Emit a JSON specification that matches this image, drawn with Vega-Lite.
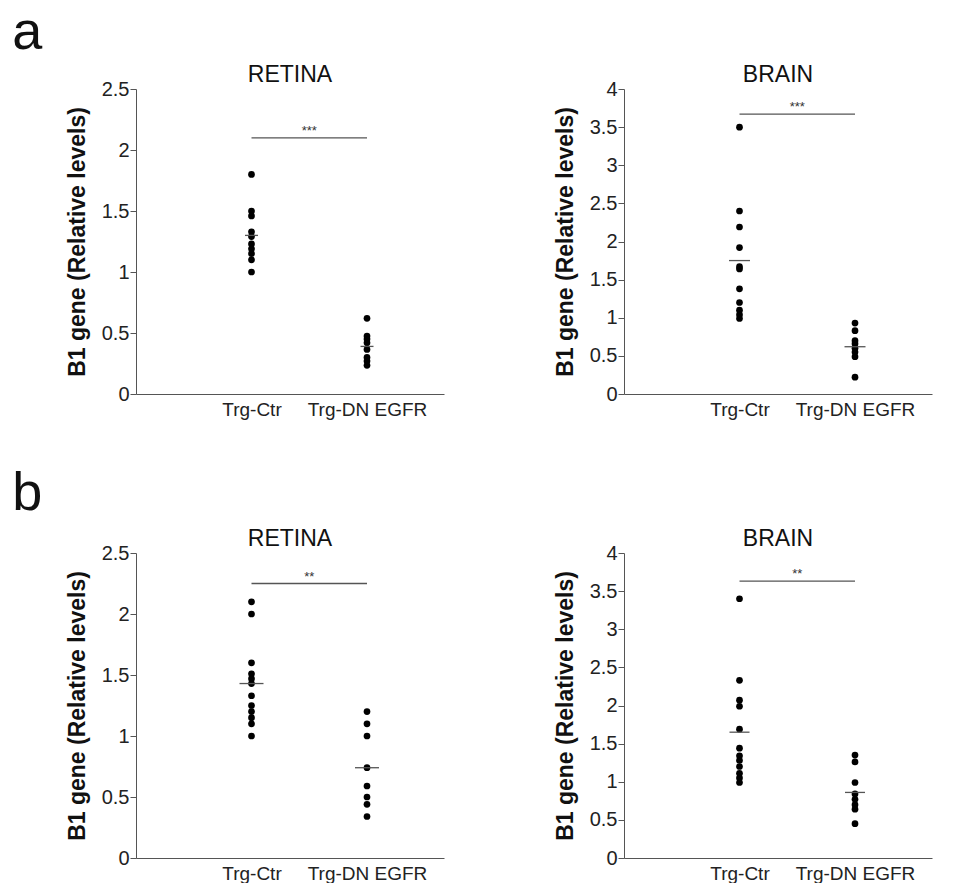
{
  "$schema": "https://vega.github.io/schema/vega-lite/v6.json",
  "background": "white",
  "padding": {"left": 12, "top": 6, "right": 15, "bottom": 0},
  "config": {
    "font": "Liberation Sans",
    "view": {"stroke": null},
    "title": {"fontSize": 23, "fontWeight": "normal", "color": "#111", "offset": -8},
    "axis": {"grid": false, "domainColor": "#555", "tickColor": "#555", "labelColor": "#222", "titleColor": "#111", "labelOverlap": false}
  },
  "spacing": 48,
  "vconcat": [
    {
      "title": {"text": "a", "anchor": "start", "fontSize": 54, "fontWeight": "normal", "dx": -54, "offset": 4, "color": "#111"},
      "spacing": 110,
      "hconcat": [
        {
          "width": 308, "height": 305, "title": "RETINA",
          "encoding": {
            "x": {"field": "group", "type": "nominal", "scale": {"type": "point", "domain": ["Trg-Ctr", "Trg-DN EGFR"], "padding": 0.8333, "align": 0.6}, "axis": {"title": null, "ticks": false, "labelAngle": 0, "labelFontSize": 19, "labelPadding": 6}},
            "y": {"field": "value", "type": "quantitative", "scale": {"domain": [0, 2.5], "nice": false}, "axis": {"values": [0, 0.5, 1, 1.5, 2, 2.5], "format": ".1~f", "labelOverlap": false, "tickSize": 6, "labelFontSize": 20, "labelPadding": 1, "title": "B1 gene (Relative levels)", "titleFontSize": 23, "titleFontWeight": "bold", "titlePadding": 12}}
          },
          "layer": [
            {"data": {"values": [
              {"group": "Trg-Ctr", "value": 1.80}, {"group": "Trg-Ctr", "value": 1.50}, {"group": "Trg-Ctr", "value": 1.46}, {"group": "Trg-Ctr", "value": 1.33}, {"group": "Trg-Ctr", "value": 1.29}, {"group": "Trg-Ctr", "value": 1.23}, {"group": "Trg-Ctr", "value": 1.19}, {"group": "Trg-Ctr", "value": 1.15}, {"group": "Trg-Ctr", "value": 1.10}, {"group": "Trg-Ctr", "value": 1.00},
              {"group": "Trg-DN EGFR", "value": 0.62}, {"group": "Trg-DN EGFR", "value": 0.475}, {"group": "Trg-DN EGFR", "value": 0.45}, {"group": "Trg-DN EGFR", "value": 0.42}, {"group": "Trg-DN EGFR", "value": 0.365}, {"group": "Trg-DN EGFR", "value": 0.30}, {"group": "Trg-DN EGFR", "value": 0.27}, {"group": "Trg-DN EGFR", "value": 0.235}
            ]},
             "mark": {"type": "point", "filled": true, "color": "#000", "opacity": 1, "size": 45}},
            {"data": {"values": [{"group": "Trg-Ctr", "value": 1.30}, {"group": "Trg-DN EGFR", "value": 0.39}]},
             "mark": {"type": "tick", "orient": "horizontal", "size": 13, "thickness": 1.3, "color": "#555", "opacity": 1}},
            {"data": {"values": [{"group": "Trg-Ctr", "group2": "Trg-DN EGFR", "value": 2.1, "label": "***"}]},
             "mark": {"type": "rule", "color": "#555", "strokeWidth": 1.3},
             "encoding": {"x2": {"field": "group2"}}},
            {"data": {"values": [{"group": "Trg-Ctr", "group2": "Trg-DN EGFR", "value": 2.1, "label": "***"}]},
             "mark": {"type": "text", "dx": 57.75, "dy": -7, "fontSize": 13, "color": "#333"},
             "encoding": {"text": {"field": "label"}}}
          ]
        },
        {
          "width": 308, "height": 305, "title": "BRAIN",
          "encoding": {
            "x": {"field": "group", "type": "nominal", "scale": {"type": "point", "domain": ["Trg-Ctr", "Trg-DN EGFR"], "padding": 0.8333, "align": 0.6}, "axis": {"title": null, "ticks": false, "labelAngle": 0, "labelFontSize": 19, "labelPadding": 6}},
            "y": {"field": "value", "type": "quantitative", "scale": {"domain": [0, 4], "nice": false}, "axis": {"values": [0, 0.5, 1, 1.5, 2, 2.5, 3, 3.5, 4], "format": ".1~f", "labelOverlap": false, "tickSize": 6, "labelFontSize": 20, "labelPadding": 1, "title": "B1 gene (Relative levels)", "titleFontSize": 23, "titleFontWeight": "bold", "titlePadding": 12}}
          },
          "layer": [
            {"data": {"values": [
              {"group": "Trg-Ctr", "value": 3.50}, {"group": "Trg-Ctr", "value": 2.40}, {"group": "Trg-Ctr", "value": 2.19}, {"group": "Trg-Ctr", "value": 1.92}, {"group": "Trg-Ctr", "value": 1.67}, {"group": "Trg-Ctr", "value": 1.64}, {"group": "Trg-Ctr", "value": 1.38}, {"group": "Trg-Ctr", "value": 1.20}, {"group": "Trg-Ctr", "value": 1.10}, {"group": "Trg-Ctr", "value": 1.04}, {"group": "Trg-Ctr", "value": 0.99},
              {"group": "Trg-DN EGFR", "value": 0.93}, {"group": "Trg-DN EGFR", "value": 0.83}, {"group": "Trg-DN EGFR", "value": 0.70}, {"group": "Trg-DN EGFR", "value": 0.66}, {"group": "Trg-DN EGFR", "value": 0.60}, {"group": "Trg-DN EGFR", "value": 0.55}, {"group": "Trg-DN EGFR", "value": 0.49}, {"group": "Trg-DN EGFR", "value": 0.22}
            ]},
             "mark": {"type": "point", "filled": true, "color": "#000", "opacity": 1, "size": 45}},
            {"data": {"values": [{"group": "Trg-Ctr", "value": 1.75}, {"group": "Trg-DN EGFR", "value": 0.62}]},
             "mark": {"type": "tick", "orient": "horizontal", "size": 21, "thickness": 1.3, "color": "#555", "opacity": 1}},
            {"data": {"values": [{"group": "Trg-Ctr", "group2": "Trg-DN EGFR", "value": 3.67, "label": "***"}]},
             "mark": {"type": "rule", "color": "#555", "strokeWidth": 1.3},
             "encoding": {"x2": {"field": "group2"}}},
            {"data": {"values": [{"group": "Trg-Ctr", "group2": "Trg-DN EGFR", "value": 3.67, "label": "***"}]},
             "mark": {"type": "text", "dx": 57.75, "dy": -7, "fontSize": 13, "color": "#333"},
             "encoding": {"text": {"field": "label"}}}
          ]
        }
      ]
    },
    {
      "title": {"text": "b", "anchor": "start", "fontSize": 54, "fontWeight": "normal", "dx": -54, "offset": 7, "color": "#111"},
      "spacing": 110,
      "hconcat": [
        {
          "width": 308, "height": 305, "title": "RETINA",
          "encoding": {
            "x": {"field": "group", "type": "nominal", "scale": {"type": "point", "domain": ["Trg-Ctr", "Trg-DN EGFR"], "padding": 0.8333, "align": 0.6}, "axis": {"title": null, "ticks": false, "labelAngle": 0, "labelFontSize": 19, "labelPadding": 6}},
            "y": {"field": "value", "type": "quantitative", "scale": {"domain": [0, 2.5], "nice": false}, "axis": {"values": [0, 0.5, 1, 1.5, 2, 2.5], "format": ".1~f", "labelOverlap": false, "tickSize": 6, "labelFontSize": 20, "labelPadding": 1, "title": "B1 gene (Relative levels)", "titleFontSize": 23, "titleFontWeight": "bold", "titlePadding": 12}}
          },
          "layer": [
            {"data": {"values": [
              {"group": "Trg-Ctr", "value": 2.10}, {"group": "Trg-Ctr", "value": 2.00}, {"group": "Trg-Ctr", "value": 1.60}, {"group": "Trg-Ctr", "value": 1.51}, {"group": "Trg-Ctr", "value": 1.47}, {"group": "Trg-Ctr", "value": 1.43}, {"group": "Trg-Ctr", "value": 1.33}, {"group": "Trg-Ctr", "value": 1.25}, {"group": "Trg-Ctr", "value": 1.20}, {"group": "Trg-Ctr", "value": 1.15}, {"group": "Trg-Ctr", "value": 1.10}, {"group": "Trg-Ctr", "value": 1.00},
              {"group": "Trg-DN EGFR", "value": 1.20}, {"group": "Trg-DN EGFR", "value": 1.10}, {"group": "Trg-DN EGFR", "value": 1.00}, {"group": "Trg-DN EGFR", "value": 0.74}, {"group": "Trg-DN EGFR", "value": 0.59}, {"group": "Trg-DN EGFR", "value": 0.50}, {"group": "Trg-DN EGFR", "value": 0.44}, {"group": "Trg-DN EGFR", "value": 0.34}
            ]},
             "mark": {"type": "point", "filled": true, "color": "#000", "opacity": 1, "size": 45}},
            {"data": {"values": [{"group": "Trg-Ctr", "value": 1.43}, {"group": "Trg-DN EGFR", "value": 0.74}]},
             "mark": {"type": "tick", "orient": "horizontal", "size": 24, "thickness": 1.3, "color": "#555", "opacity": 1}},
            {"data": {"values": [{"group": "Trg-Ctr", "group2": "Trg-DN EGFR", "value": 2.25, "label": "**"}]},
             "mark": {"type": "rule", "color": "#555", "strokeWidth": 1.3},
             "encoding": {"x2": {"field": "group2"}}},
            {"data": {"values": [{"group": "Trg-Ctr", "group2": "Trg-DN EGFR", "value": 2.25, "label": "**"}]},
             "mark": {"type": "text", "dx": 57.75, "dy": -7, "fontSize": 13, "color": "#333"},
             "encoding": {"text": {"field": "label"}}}
          ]
        },
        {
          "width": 308, "height": 305, "title": "BRAIN",
          "encoding": {
            "x": {"field": "group", "type": "nominal", "scale": {"type": "point", "domain": ["Trg-Ctr", "Trg-DN EGFR"], "padding": 0.8333, "align": 0.6}, "axis": {"title": null, "ticks": false, "labelAngle": 0, "labelFontSize": 19, "labelPadding": 6}},
            "y": {"field": "value", "type": "quantitative", "scale": {"domain": [0, 4], "nice": false}, "axis": {"values": [0, 0.5, 1, 1.5, 2, 2.5, 3, 3.5, 4], "format": ".1~f", "labelOverlap": false, "tickSize": 6, "labelFontSize": 20, "labelPadding": 1, "title": "B1 gene (Relative levels)", "titleFontSize": 23, "titleFontWeight": "bold", "titlePadding": 12}}
          },
          "layer": [
            {"data": {"values": [
              {"group": "Trg-Ctr", "value": 3.40}, {"group": "Trg-Ctr", "value": 2.33}, {"group": "Trg-Ctr", "value": 2.07}, {"group": "Trg-Ctr", "value": 1.99}, {"group": "Trg-Ctr", "value": 1.69}, {"group": "Trg-Ctr", "value": 1.44}, {"group": "Trg-Ctr", "value": 1.34}, {"group": "Trg-Ctr", "value": 1.28}, {"group": "Trg-Ctr", "value": 1.20}, {"group": "Trg-Ctr", "value": 1.11}, {"group": "Trg-Ctr", "value": 1.05}, {"group": "Trg-Ctr", "value": 0.99},
              {"group": "Trg-DN EGFR", "value": 1.35}, {"group": "Trg-DN EGFR", "value": 1.26}, {"group": "Trg-DN EGFR", "value": 0.99}, {"group": "Trg-DN EGFR", "value": 0.84}, {"group": "Trg-DN EGFR", "value": 0.77}, {"group": "Trg-DN EGFR", "value": 0.70}, {"group": "Trg-DN EGFR", "value": 0.64}, {"group": "Trg-DN EGFR", "value": 0.45}
            ]},
             "mark": {"type": "point", "filled": true, "color": "#000", "opacity": 1, "size": 45}},
            {"data": {"values": [{"group": "Trg-Ctr", "value": 1.65}, {"group": "Trg-DN EGFR", "value": 0.86}]},
             "mark": {"type": "tick", "orient": "horizontal", "size": 20, "thickness": 1.3, "color": "#555", "opacity": 1}},
            {"data": {"values": [{"group": "Trg-Ctr", "group2": "Trg-DN EGFR", "value": 3.63, "label": "**"}]},
             "mark": {"type": "rule", "color": "#555", "strokeWidth": 1.3},
             "encoding": {"x2": {"field": "group2"}}},
            {"data": {"values": [{"group": "Trg-Ctr", "group2": "Trg-DN EGFR", "value": 3.63, "label": "**"}]},
             "mark": {"type": "text", "dx": 57.75, "dy": -7, "fontSize": 13, "color": "#333"},
             "encoding": {"text": {"field": "label"}}}
          ]
        }
      ]
    }
  ]
}
